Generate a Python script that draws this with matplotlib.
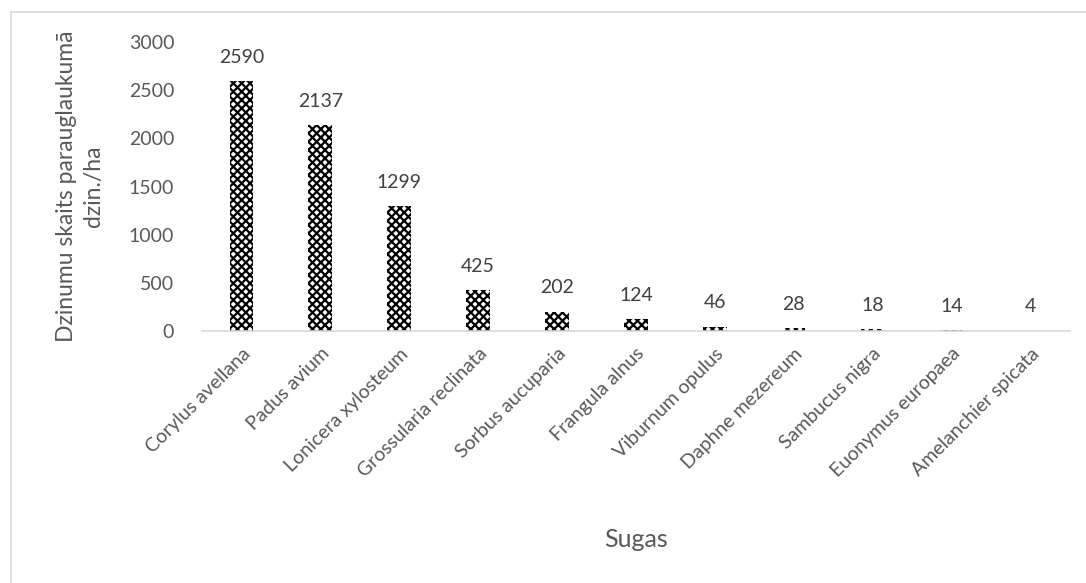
import matplotlib.pyplot as plt
from matplotlib.patches import Rectangle

plt.rcParams["font.family"] = ["Lato", "DejaVu Sans"]
plt.rcParams["hatch.linewidth"] = 1.6

species = ["Corylus avellana", "Padus avium", "Lonicera xylosteum",
           "Grossularia reclinata", "Sorbus aucuparia", "Frangula alnus",
           "Viburnum opulus", "Daphne mezereum", "Sambucus nigra",
           "Euonymus europaea", "Amelanchier spicata"]
shoots_per_ha = [2590, 2137, 1299, 425, 202, 124, 46, 28, 18, 14, 4]
y_ticks = [0, 500, 1000, 1500, 2000, 2500, 3000]

fig = plt.figure(figsize=(10.86, 5.83), dpi=100)
ax = fig.add_axes([0.186, 0.432, 0.799, 0.496])

x = range(len(species))
ax.bar(x, shoots_per_ha, width=0.30, color="white", edgecolor="black",
       hatch="xxxx", linewidth=0)

for i, v in zip(x, shoots_per_ha):
    ax.annotate(str(v), (i, v), textcoords="offset points", xytext=(0, 11),
                ha="center", va="bottom", fontsize=14, color="#404040")

ax.set_xlim(-0.5, len(species) - 0.5)
ax.set_ylim(0, 3000)
ax.set_yticks(y_ticks)
ax.set_xticks(list(x))
ax.set_xticklabels(species, rotation=45, ha="right", rotation_mode="anchor",
                   fontsize=14, color="#595959")
ax.tick_params(axis="y", length=0, labelsize=14, labelcolor="#595959", pad=20)
ax.tick_params(axis="x", length=0, pad=10)

for s in ["top", "right", "left"]:
    ax.spines[s].set_visible(False)
ax.spines["bottom"].set_color("#d9d9d9")
ax.spines["bottom"].set_linewidth(1.2)

ax.set_ylabel("Dzinumu skaits parauglaukumā\ndzin./ha", fontsize=16.5,
              color="#595959", labelpad=18, linespacing=1.35)
ax.set_xlabel("Sugas", fontsize=18, color="#595959", labelpad=34)

# chart area frame
fig.add_artist(Rectangle((11 / 1086, -0.1), 1.2, 1 - 12 / 583 + 0.1,
                         transform=fig.transFigure, fill=False,
                         edgecolor="#d9d9d9", linewidth=1.2))

fig.savefig("out.png", dpi=100, facecolor="white")
